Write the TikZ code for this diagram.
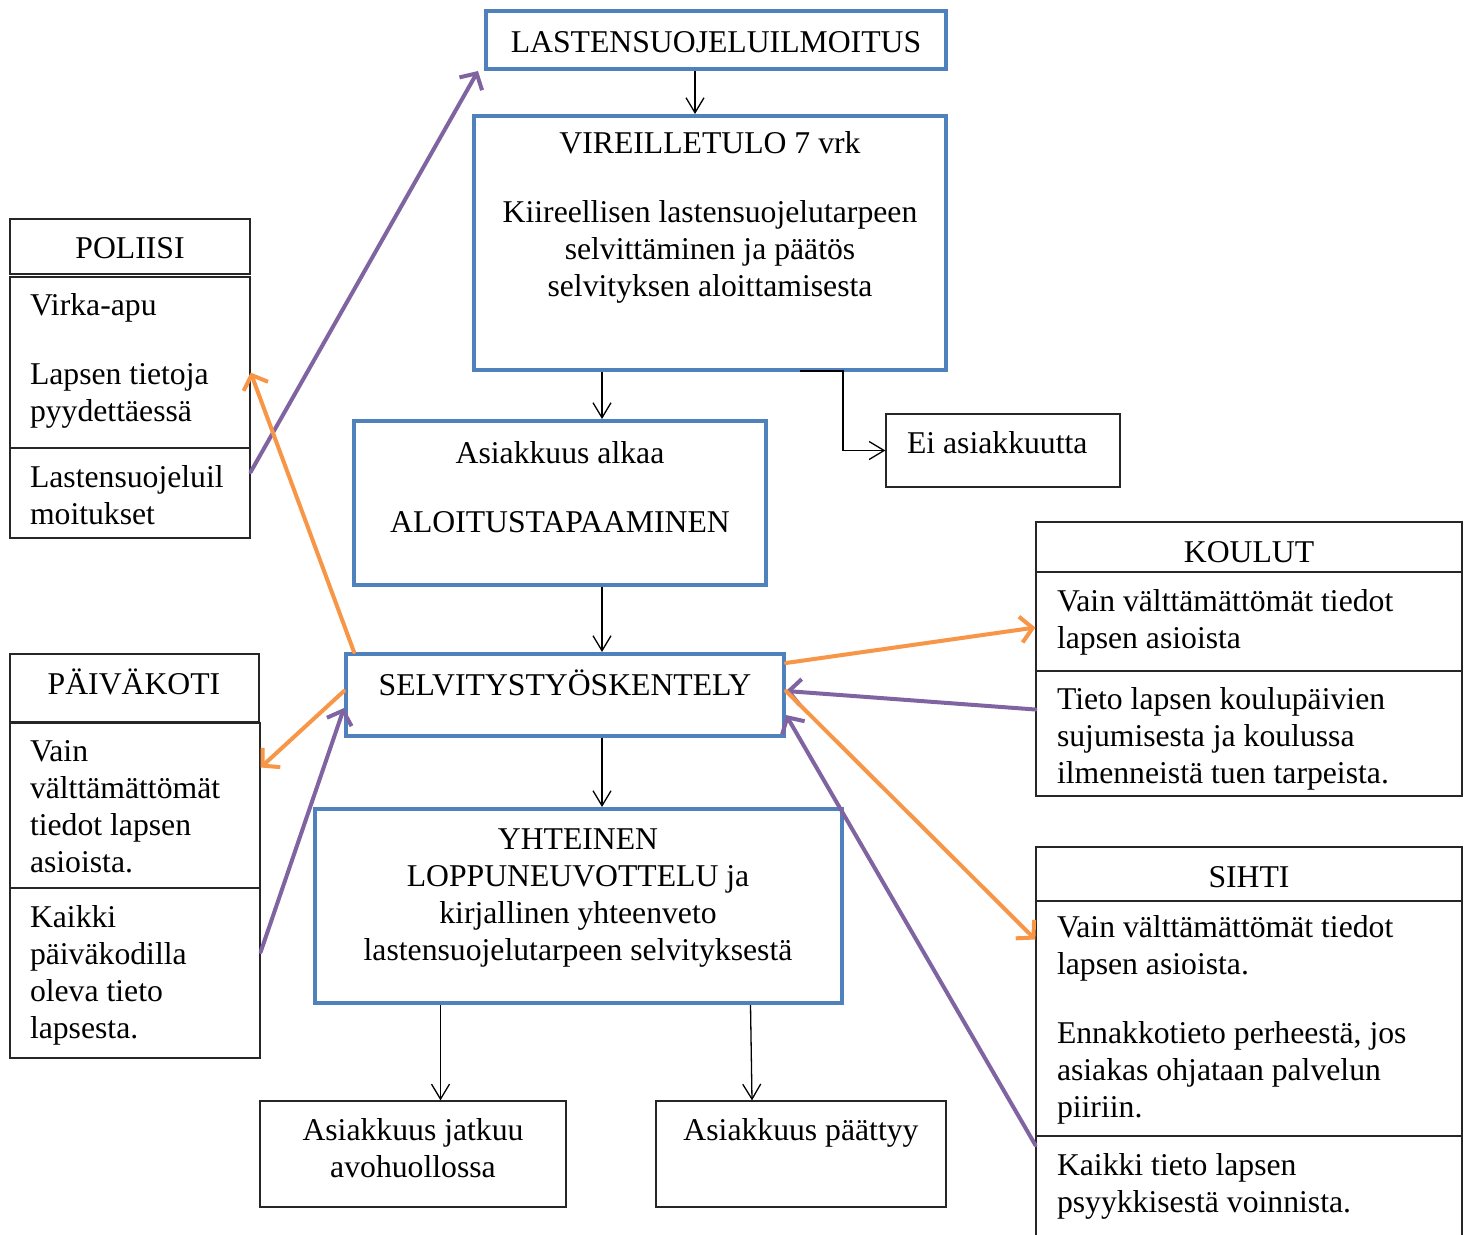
\documentclass[tikz,border=0pt]{standalone}
\usepackage{fontspec}
\setmainfont{Liberation Serif}
\usetikzlibrary{arrows.meta}
\definecolor{bblue}{RGB}{79,129,189}
\definecolor{borange}{RGB}{247,150,70}
\definecolor{bpurple}{RGB}{128,100,162}
\tikzset{
  bluebox/.style={draw=bblue, line width=4pt, rectangle, inner sep=0pt, fill=white},
  blackbox/.style={draw=black!85, line width=1.3pt, rectangle, inner sep=0pt, fill=white},
  txt/.style={font=\fontsize{31.7}{36.8}\selectfont, inner sep=0pt, outer sep=0pt},
  ctxt/.style={txt, align=center, anchor=base},
  ltxt/.style={txt, align=left, anchor=base west},
  blk/.style={draw=black, line width=1.3pt, -{Straight Barb[length=15pt,width=18pt]}},
  org/.style={draw=borange, line width=4pt, line cap=round, line join=round, -{Straight Barb[length=12pt,width=26pt]}},
  pur/.style={draw=bpurple, line width=4pt, line cap=round, line join=round, -{Straight Barb[length=12pt,width=26pt]}}
}
\newcommand\mkbox[6]{\node[#6, minimum width={(#4-#2)*1pt}, minimum height={(#5-#3)*1pt}] (#1) at ({(#2+#4)/2},{(#3+#5)/2}) {};}
\begin{document}
\begin{tikzpicture}[x=1pt,y=-1pt]
\useasboundingbox (0,0) rectangle (1471,1234);
\fill[white] (0,0) rectangle (1471,1234);
% blue boxes
\mkbox{ilm}{486}{11}{946}{69}{bluebox}
\mkbox{vir}{474}{116}{946}{370}{bluebox}
\mkbox{alk}{354}{421}{766}{585}{bluebox}
\mkbox{sel}{346}{654}{784}{736}{bluebox}
\mkbox{yht}{315}{809}{842}{1003}{bluebox}
% black boxes
\mkbox{ei}{886}{414}{1120}{487}{blackbox}
\mkbox{jat}{260}{1101}{566}{1207}{blackbox}
\mkbox{paa}{656}{1101}{946}{1207}{blackbox}
\mkbox{pol}{10}{219}{250}{274}{blackbox}
\mkbox{pol2}{10}{277}{250}{448}{blackbox}
\mkbox{pol3}{10}{448}{250}{538}{blackbox}
\mkbox{pai}{10}{654}{259}{722}{blackbox}
\mkbox{pai2}{10}{723}{260}{888}{blackbox}
\mkbox{pai3}{10}{888}{260}{1058}{blackbox}
\mkbox{kou}{1036}{522}{1462}{572}{blackbox}
\mkbox{kou2}{1036}{572}{1462}{671}{blackbox}
\mkbox{kou3}{1036}{671}{1462}{796}{blackbox}
\mkbox{sih}{1036}{847}{1462}{901}{blackbox}
\mkbox{sih2}{1036}{901}{1462}{1136}{blackbox}
\mkbox{sih3}{1036}{1136}{1462}{1260}{blackbox}
% texts (multi-line nodes are anchored at the baseline of their last line)
\node[ctxt] (ilm-t) at (716,52) {LASTENSUOJELUILMOITUS};
\node[ctxt] (vir-t) at (710,296) {VIREILLETULO 7 vrk\\[32pt]Kiireellisen lastensuojelutarpeen\\selvittäminen ja päätös\\selvityksen aloittamisesta};
\node[ctxt] (alk-t) at (560,532) {Asiakkuus alkaa\\[32pt]ALOITUSTAPAAMINEN};
\node[ctxt] (sel-t) at (565,695) {SELVITYSTYÖSKENTELY};
\node[ctxt] (yht-t) at (578,960) {YHTEINEN\\LOPPUNEUVOTTELU ja\\kirjallinen yhteenveto\\lastensuojelutarpeen selvityksestä};
\node[ltxt] (ei-t) at (907,453) {Ei asiakkuutta};
\node[ctxt] (jat-t) at (413,1177) {Asiakkuus jatkuu\\avohuollossa};
\node[ctxt] (paa-t) at (801,1140) {Asiakkuus päättyy};
\node[ctxt] (pol-t) at (130,258) {POLIISI};
\node[ltxt] (pol2-t) at (30,421) {Virka-apu\\[32pt]Lapsen tietoja\\pyydettäessä};
\node[ltxt] (pol3-t) at (30,524) {Lastensuojeluil\\moitukset};
\node[ctxt] (pai-t) at (134,694) {PÄIVÄKOTI};
\node[ltxt] (pai2-t) at (30,872) {Vain\\välttämättömät\\tiedot lapsen\\asioista.};
\node[ltxt] (pai3-t) at (30,1038) {Kaikki\\päiväkodilla\\oleva tieto\\lapsesta.};
\node[ctxt] (kou-t) at (1249,562) {KOULUT};
\node[ltxt] (kou2-t) at (1057,648) {Vain välttämättömät tiedot\\lapsen asioista};
\node[ltxt] (kou3-t) at (1057,783) {Tieto lapsen koulupäivien\\sujumisesta ja koulussa\\ilmenneistä tuen tarpeista.};
\node[ctxt] (sih-t) at (1249,887) {SIHTI};
\node[ltxt] (sih2-t) at (1057,1117) {Vain välttämättömät tiedot\\lapsen asioista.\\[32pt]Ennakkotieto perheestä, jos\\asiakas ohjataan palvelun\\piiriin.};
\node[ltxt] (sih3-t) at (1057,1212) {Kaikki tieto lapsen\\psyykkisestä voinnista.};
% black connectors
\draw[blk] ([xshift=-21pt]ilm.south) -- ([xshift=-21pt]ilm.south |- vir.north);
\draw[blk] ([xshift=-108pt]vir.south) -- ([xshift=-108pt]vir.south |- alk.north);
\draw[blk] ([xshift=90pt,yshift=1pt]vir.south) -- ++(43,0) |- (ei.west);
\draw[blk] ([xshift=42pt]alk.south) -- ([xshift=42pt]alk.south |- sel.north);
\draw[blk] ([xshift=37pt]sel.south) -- ([xshift=37pt]sel.south |- yht.north);
\draw[blk] ([xshift=-138pt]yht.south) -- ([xshift=-138pt]yht.south |- jat.north);
\draw[blk] ([xshift=172pt]yht.south) -- ([xshift=-49pt]paa.north);
% coloured connectors
\draw[pur] ([yshift=21pt]pol3.east) -- ([xshift=-6pt]ilm.south west);
\draw[org] ([xshift=10pt]sel.north west) -- ([yshift=-10pt]pol2.east);
\draw[org] ([yshift=4pt]sel.west) -- ([yshift=38pt]pai2.east);
\draw[pur] ([yshift=21pt]pai3.east) -- ([yshift=-13pt]sel.west);
\draw[org] ([yshift=32pt]sel.east) -- ([yshift=-6pt]kou2.west);
\draw[pur] ([yshift=24pt]kou3.west) -- ([yshift=4pt]sel.east);
\draw[org] ([yshift=4pt]sel.east) -- ([yshift=79pt]sih2.west);
\draw[pur] ([yshift=53pt]sih3.west) -- ([yshift=-20pt]sel.east);
\end{tikzpicture}
\end{document}
